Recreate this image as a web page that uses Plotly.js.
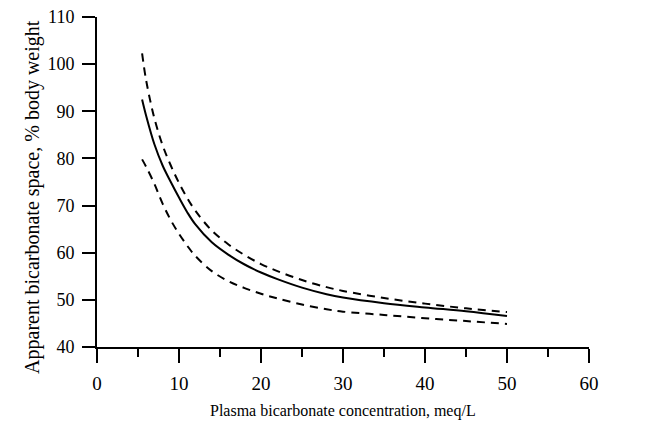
<!DOCTYPE html>
<html>
<head>
<meta charset="utf-8">
<script src="https://cdn.plot.ly/plotly-3.0.1.min.js"></script>
<style>
  html, body { margin: 0; padding: 0; background: #fff; }
  #chart { width: 670px; height: 431px; }
</style>
</head>
<body>
<div id="chart"></div>
<script>
// Plasma bicarbonate concentration (meq/L)
const concentration = [5.5, 6, 7, 8, 9, 10, 11, 12, 14, 16, 18, 20, 22, 25, 28, 30, 35, 40, 45, 50];
// Apparent bicarbonate space, % body weight
const spaceMean  = [92.5, 89, 83, 78.5, 75, 71.7, 68.6, 66, 62.2, 59.6, 57.5, 55.8, 54.4, 52.6, 51.2, 50.5, 49.3, 48.4, 47.6, 46.6];
const spaceUpper = [102.3, 96.5, 88.5, 82.8, 78.5, 74.8, 71.6, 68.9, 64.7, 61.8, 59.5, 57.6, 56.1, 54.2, 52.7, 51.9, 50.4, 49.2, 48.2, 47.4];
const spaceLower = [79.8, 78.2, 74.6, 70.4, 66.9, 64, 61.5, 59.3, 56.1, 54, 52.5, 51.3, 50.3, 49, 48, 47.5, 46.8, 46.1, 45.5, 44.9];

const xTicks = [0, 10, 20, 30, 40, 50, 60];
const yTicks = [40, 50, 60, 70, 80, 90, 100, 110];

const xTitle = 'Plasma bicarbonate concentration, meq/L';
const yTitle = 'Apparent bicarbonate space, % body weight';

const serif = 'Liberation Serif, Times New Roman, serif';

const traces = [
  { x: concentration, y: spaceUpper, mode: 'lines', line: { color: '#000', width: 2, dash: '8px,6px', shape: 'spline', smoothing: 1 }, hoverinfo: 'skip' },
  { x: concentration, y: spaceMean,  mode: 'lines', line: { color: '#000', width: 2, shape: 'spline', smoothing: 1 }, hoverinfo: 'skip' },
  { x: concentration, y: spaceLower, mode: 'lines', line: { color: '#000', width: 2, dash: '8px,6px', shape: 'spline', smoothing: 1 }, hoverinfo: 'skip' }
];

const layout = {
  width: 670, height: 431,
  margin: { l: 97, r: 81, t: 17, b: 84 },
  paper_bgcolor: '#fff', plot_bgcolor: '#fff',
  showlegend: false,
  font: { family: serif, color: '#000' },
  xaxis: {
    range: [0, 60], tickvals: xTicks, ticktext: xTicks.map(String),
    showline: true, linecolor: '#000', linewidth: 2,
    ticks: 'outside', ticklen: 14, tickwidth: 2, tickcolor: '#000',
    minor: { dtick: 5, tick0: 0, ticks: 'outside', ticklen: 8, tickwidth: 2, tickcolor: '#000' },
    showgrid: false, zeroline: false,
    tickfont: { family: serif, size: 19, color: '#000' },
    ticklabelstandoff: 4
  },
  yaxis: {
    range: [40, 110], tickvals: yTicks, ticktext: yTicks.map(String),
    showline: true, linecolor: '#000', linewidth: 2,
    ticks: 'outside', ticklen: 13, tickwidth: 2, tickcolor: '#000',
    showgrid: false, zeroline: false,
    tickfont: { family: serif, size: 18, color: '#000' },
    ticklabelstandoff: 4
  },
  annotations: [
    { text: xTitle, xref: 'paper', yref: 'paper', x: 0.5, y: -0.194, xanchor: 'center', yanchor: 'middle',
      showarrow: false, font: { family: serif, size: 16, color: '#000' } },
    { text: yTitle, xref: 'paper', yref: 'paper', x: -0.13, y: 0.455, xanchor: 'center', yanchor: 'middle',
      textangle: -90, showarrow: false, font: { family: serif, size: 20, color: '#000' } }
  ]
};

Plotly.newPlot('chart', traces, layout, { displayModeBar: false, staticPlot: true });
</script>
</body>
</html>
